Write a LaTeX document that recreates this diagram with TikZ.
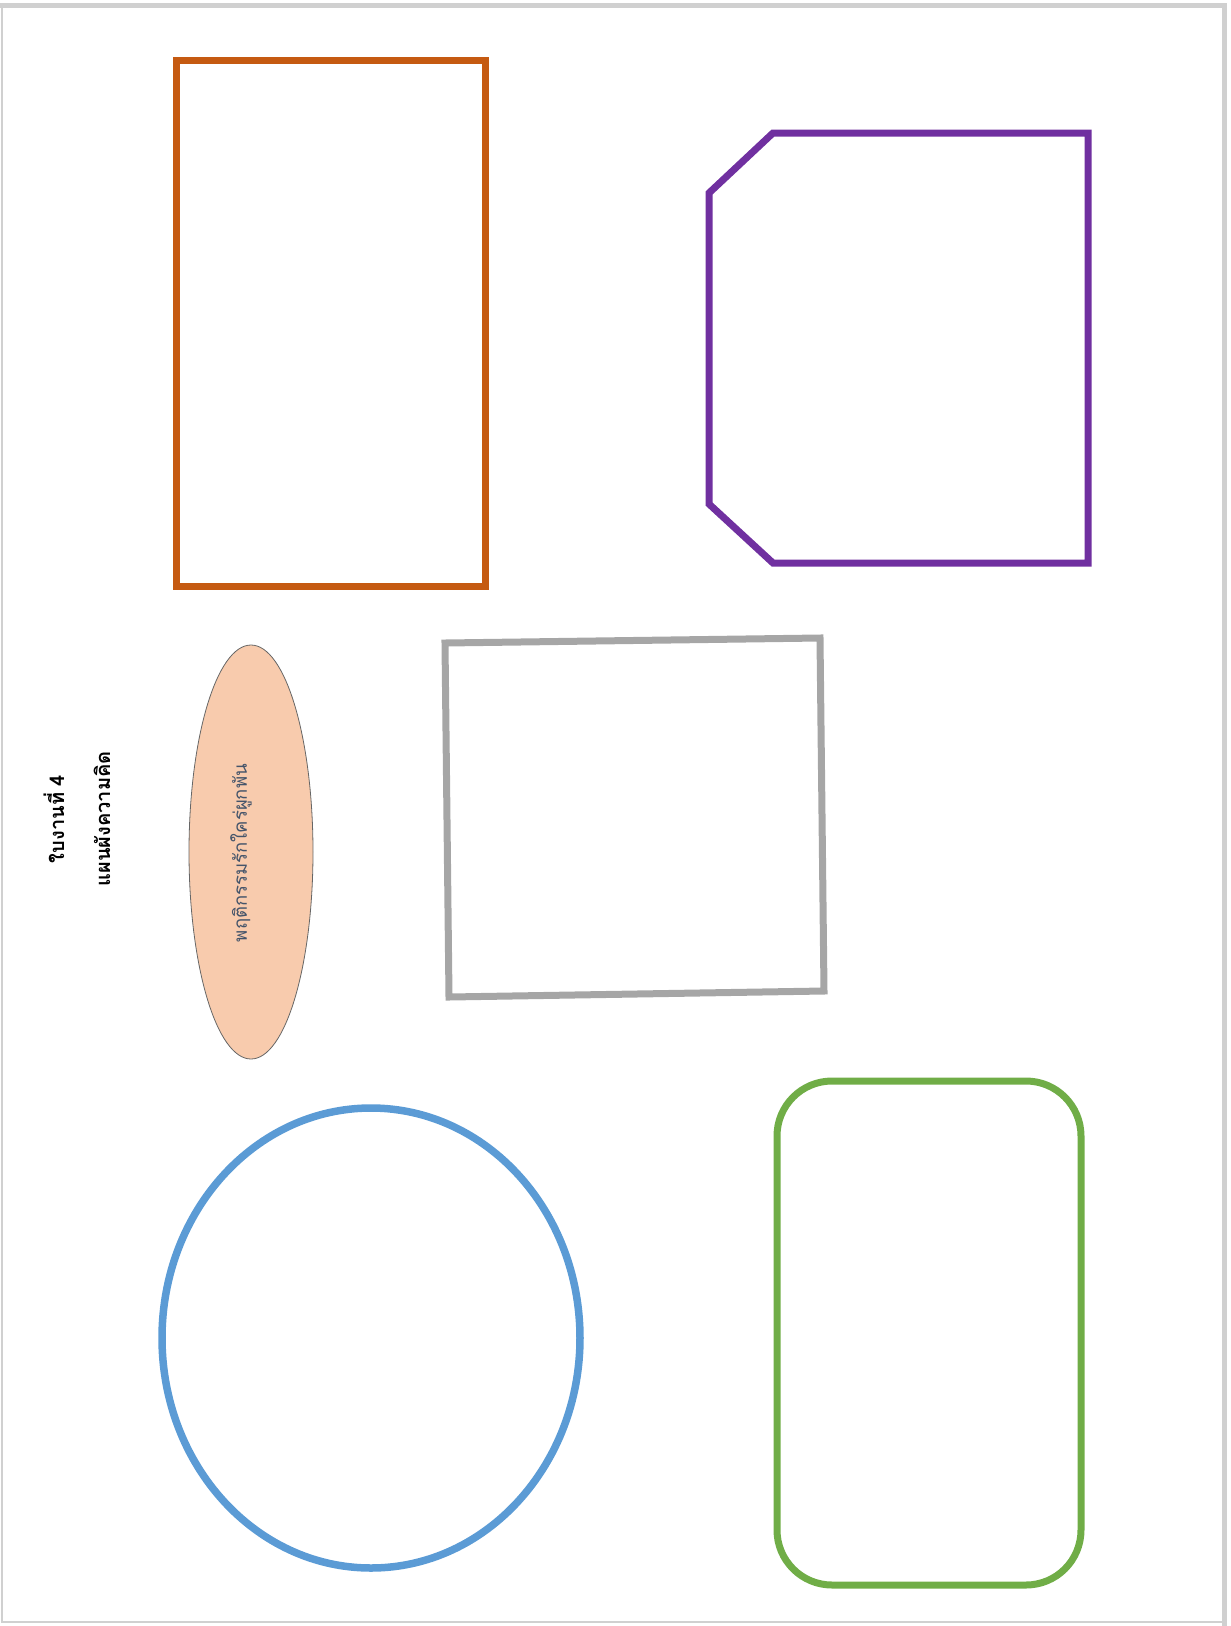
\documentclass[tikz,border=0pt]{standalone}
\usepackage{fontspec}
\newfontfamily\thaifont[Script=Thai]{Loma}
\usetikzlibrary{positioning}
\usetikzlibrary{calc}
\usetikzlibrary{shapes.geometric}

\definecolor{brorange}{HTML}{C55A11}
\definecolor{brpurple}{HTML}{7030A0}
\definecolor{brgray}{HTML}{A6A6A6}
\definecolor{brpeach}{HTML}{F8CBAD}
\definecolor{brblue}{HTML}{5B9BD5}
\definecolor{brgreen}{HTML}{70AD47}
\definecolor{brframe}{HTML}{D0D0D0}
\definecolor{brtext}{HTML}{44546A}

\begin{document}
\begin{tikzpicture}[x=1pt, y=-1pt,
    frame/.style={draw=brframe, line width=1.5pt},
    outline/.style={line width=7pt, line join=miter},
    label/.style={font=\thaifont\bfseries\fontsize{20}{24}\selectfont, rotate=90, inner sep=0pt}]
    \useasboundingbox (0,0) rectangle (1231,1626);

    % page frame
    \draw[frame] (2,5) rectangle (1224,1622);
    \draw[draw=brframe, line width=5pt] (0,5) -- (1224,5) -- (1224,1626);

    % title
    \node[label] (title) at (54,819) {ใบงานที่ 4};
    \node[label] (map) at (102,819) {แผนผังความคิด};

    % boxes
    \draw[outline, draw=brorange] (176,60) rectangle (485,586);
    \draw[outline, draw=brpurple] (773,133) -- (1088,133) -- (1088,563) -- (773,563) -- (709,504) -- (709,193) -- cycle;
    \draw[outline, draw=brgray] (445,643) -- (820,638) -- (824,991) -- (449,997) -- cycle;
    \draw[outline, draw=brblue, line width=7.5pt] (371,1338) ellipse [x radius=209, y radius=230];
    \draw[outline, draw=brgreen, rounded corners=55pt] (777,1081) rectangle (1081,1585);

    % centre topic
    \node[ellipse, draw=black!60, fill=brpeach, line width=0.8pt,
          minimum width=124pt, minimum height=414pt, inner sep=0pt] (topic) at (251,852) {};
    \node[rotate=90, text=brtext, font=\thaifont\fontsize{18.5}{22}\selectfont] (topictext) at (241,853) {พฤติกรรมรักใคร่ผูกพัน};
\end{tikzpicture}
\end{document}
